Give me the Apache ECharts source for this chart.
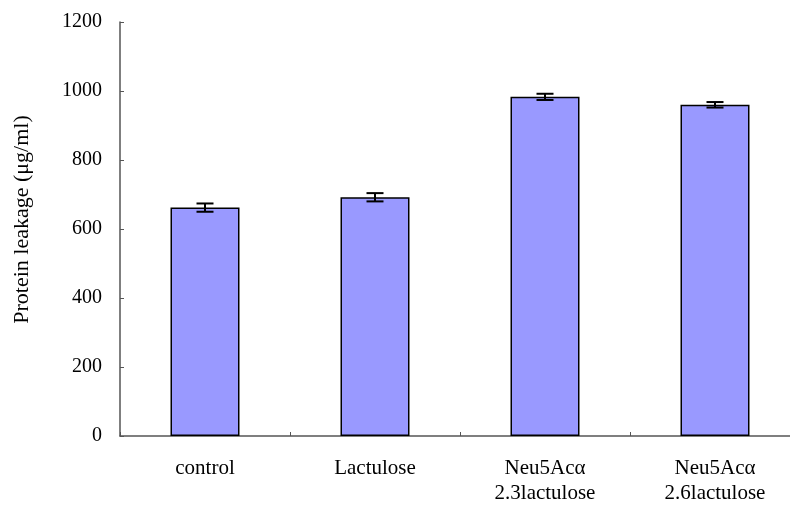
<!DOCTYPE html>
<html>
<head>
<meta charset="utf-8">
<script src="https://cdn.jsdelivr.net/npm/echarts@6/dist/echarts.min.js"></script>
<style>html,body{margin:0;padding:0;background:#fff;overflow:hidden;width:790px;height:506px}#c{width:800px;height:506px}</style>
</head>
<body>
<div id="c"></div>
<script>
var categories = ['control', 'Lactulose', 'Neu5Acα\n2.3lactulose', 'Neu5Acα\n2.6lactulose'];
var values = [662, 692, 983, 960];
var errors = [12, 12, 9, 8];
var yTicks = [0, 200, 400, 600, 800, 1000, 1200];

var chart = echarts.init(document.getElementById('c'));
var font = '"Liberation Serif", "Times New Roman", serif';
chart.setOption({
  animation: false,
  backgroundColor: '#fff',
  grid: { left: 120, top: 22, right: 0, bottom: 70, containLabel: false },
  xAxis: {
    type: 'category',
    data: categories,
    axisLine: { lineStyle: { color: '#555', width: 1.5 } },
    axisTick: { show: true, inside: true, length: 4, lineStyle: { color: '#555' } },
    axisLabel: { fontFamily: font, fontSize: 21, color: '#000', margin: 20, lineHeight: 25 }
  },
  yAxis: {
    type: 'value',
    min: yTicks[0], max: yTicks[yTicks.length - 1], interval: 200,
    name: 'Protein leakage (μg/ml)',
    nameLocation: 'middle',
    nameGap: 87,
    nameTextStyle: { fontFamily: font, fontSize: 22, color: '#000', padding: [0, 0, 0, 19] },
    splitLine: { show: false },
    axisLine: { show: true, lineStyle: { color: '#555', width: 1.5 } },
    axisTick: { show: true, inside: true, length: 4, lineStyle: { color: '#555' } },
    axisLabel: { fontFamily: font, fontSize: 20, color: '#000', margin: 18,
      formatter: function (v) { return String(v); } }
  },
  series: [
    {
      type: 'bar',
      data: values,
      barWidth: 69,
      itemStyle: { color: '#9999FF', borderColor: '#000', borderWidth: 1.5 }
    },
    {
      type: 'custom',
      data: values.map(function (v, i) { return [i, v - errors[i], v + errors[i]]; }),
      renderItem: function (params, api) {
        var lo = api.coord([api.value(0), api.value(1)]);
        var hi = api.coord([api.value(0), api.value(2)]);
        var hw = 8.5;
        var st = { stroke: '#000', lineWidth: 2 };
        return {
          type: 'group',
          children: [
            { type: 'line', shape: { x1: lo[0], y1: lo[1], x2: hi[0], y2: hi[1] }, style: st },
            { type: 'line', shape: { x1: lo[0] - hw, y1: lo[1], x2: lo[0] + hw, y2: lo[1] }, style: st },
            { type: 'line', shape: { x1: hi[0] - hw, y1: hi[1], x2: hi[0] + hw, y2: hi[1] }, style: st }
          ]
        };
      },
      z: 10
    }
  ]
});
</script>
</body>
</html>
